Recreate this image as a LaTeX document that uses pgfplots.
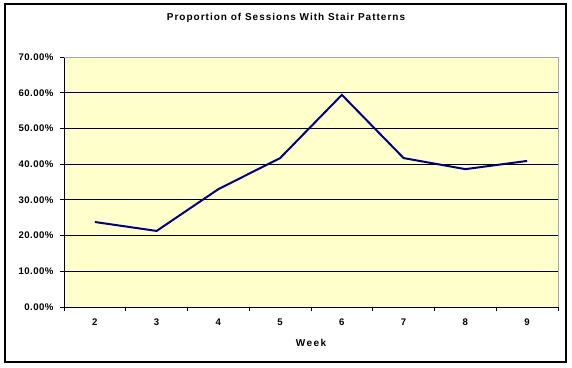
\documentclass[border=0pt]{standalone}
\usepackage{pgfplots}
\pgfplotsset{compat=1.18}
\usepackage{fontspec}
\setmainfont{Liberation Sans}
\newfontfamily\ticksfont[LetterSpace=5]{Liberation Sans}
\newfontfamily\titlefont[LetterSpace=10]{Liberation Sans}
\newfontfamily\labelfont[LetterSpace=15]{Liberation Sans}
\definecolor{plotbg}{RGB}{255,255,204}
\definecolor{navyline}{RGB}{0,0,128}
\begin{document}
\begin{tikzpicture}[x=1pt,y=1pt]
\useasboundingbox (0,0) rectangle (572,367);
\fill[white] (0,0) rectangle (572,367);
\draw[black,line width=1.3pt] (5,5) rectangle (566,363);
\node[font=\titlefont\bfseries\fontsize{10}{12}\selectfont] at (286,349) {Proportion of Sessions With Stair Patterns};
\begin{axis}[
  at={(64pt,60pt)}, anchor=south west,
  scale only axis, width=494pt, height=250pt,
  xmin=-0.5, xmax=7.5, ymin=0, ymax=0.7,
  axis background/.style={fill=plotbg},
  axis x line*=bottom, axis y line*=left,
  axis line style={black,-,line width=0.8pt},
  xtick={0,...,7},
  xticklabels={2,3,4,5,6,7,8,9},
  major x tick style={draw=none},
  minor xtick={-0.5,0.5,...,7.5},
  minor tick length=4pt,
  minor x tick style={black,line width=0.8pt},
  ytick={0,0.1,...,0.7},
  major tick length=4pt,
  tick align=outside,
  y tick style={black,line width=0.8pt},
  ymajorgrids,
  major grid style={black,line width=0.8pt},
  /pgf/number format/assume math mode=true,
  yticklabel={\pgfmathparse{\tick*100}\pgfmathprintnumber[fixed,fixed zerofill,precision=2]{\pgfmathresult}\%},
  ticklabel style={font=\ticksfont\bfseries\fontsize{9.6}{11}\selectfont},
  xticklabel style={yshift=-4pt},
  yticklabel style={xshift=-3pt},
  xlabel={Week},
  xlabel style={font=\labelfont\bfseries\fontsize{10}{12}\selectfont, at={(axis description cs:0.5,0)}, anchor=center, yshift=-36pt},
  clip=false,
]
\draw[gray!70,line width=0.8pt] (rel axis cs:0,1) -- (rel axis cs:1,1) -- (rel axis cs:1,0);
\addplot[navyline, line width=2pt, mark=none] coordinates {
(0,0.238) (1,0.213) (2,0.330) (3,0.417) (4,0.594) (5,0.417) (6,0.386) (7,0.409)
};
\end{axis}
\end{tikzpicture}
\end{document}
